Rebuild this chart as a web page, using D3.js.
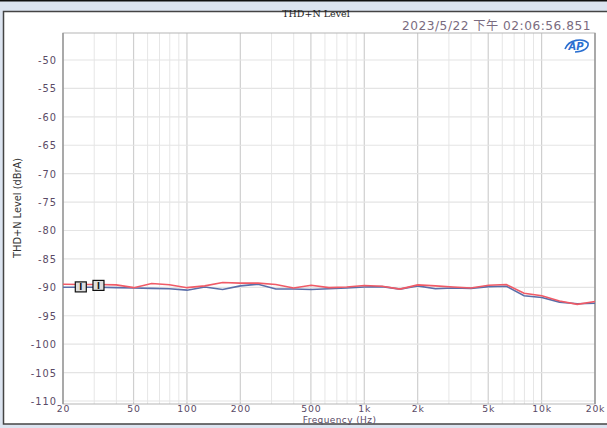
<!DOCTYPE html>
<html><head><meta charset="utf-8">
<script src="https://cdn.jsdelivr.net/npm/d3@7"></script>
<style>html,body{margin:0;padding:0;background:#dce4f0;overflow:hidden}</style>
</head><body>
<svg id="c" width="607" height="428"></svg>
<script>
const freqs = [20,25.2,31.7,39.9,50.2,63.2,79.6,100.2,126,159,200,252,317,399,502,632,796,1002,1262,1589,2000,2518,3170,3991,5024,6325,7962,10024,12619,15887,20000];
const redValues = [-89.45,-89.5,-89.5,-89.57,-90.06,-89.32,-89.55,-90.06,-89.75,-89.14,-89.26,-89.26,-89.5,-90.12,-89.63,-90.06,-89.94,-89.69,-89.81,-90.31,-89.57,-89.75,-89.94,-90.12,-89.63,-89.5,-91.05,-91.48,-92.4,-93.0,-92.5];
const blueValues = [-90,-90,-90,-90.06,-90.12,-90.19,-90.25,-90.5,-89.94,-90.37,-89.75,-89.45,-90.3,-90.3,-90.37,-90.25,-90.12,-89.94,-89.88,-90.31,-89.75,-90.25,-90.12,-90.19,-89.88,-89.81,-91.48,-91.8,-92.6,-92.9,-92.8];
const xTickValues = [20,50,100,200,500,1000,2000,5000,10000,20000];
const xTickLabels = ["20","50","100","200","500","1k","2k","5k","10k","20k"];
const yTickValues = [-50,-55,-60,-65,-70,-75,-80,-85,-90,-95,-100,-105,-110];
const markerIdx = [1,2];

const svg = d3.select("#c");
svg.append("rect").attr("x",0).attr("y",0).attr("width",607).attr("height",1.5).attr("fill","#111");
svg.append("rect").attr("x",3.5).attr("y",11.5).attr("width",610).attr("height",412.5)
  .attr("fill","#fff").attr("stroke","#444").attr("stroke-width",1.5);

const L=63, R=595, T=33, B=404;
const x = d3.scaleLog().domain([20,20000]).range([L,R]);
const y = d3.scaleLinear().domain([-110.53,-45.25]).range([B,T]);

const minor=[];
for (let d=10; d<=10000; d*=10) for (let k=2;k<=9;k++){const f=d*k; if(f>20&&f<20000&&!xTickValues.includes(f)) minor.push(f);}
svg.append("g").selectAll("line").data(minor).join("line")
  .attr("x1",d=>x(d)).attr("x2",d=>x(d)).attr("y1",T).attr("y2",B)
  .attr("stroke","#e6e6e6").attr("stroke-width",1);
svg.append("g").selectAll("line").data(xTickValues.slice(1,-1)).join("line")
  .attr("x1",d=>x(d)).attr("x2",d=>x(d)).attr("y1",T).attr("y2",B)
  .attr("stroke","#cfcfcf").attr("stroke-width",1.2);
svg.append("g").selectAll("line").data(yTickValues).join("line")
  .attr("x1",L).attr("x2",R).attr("y1",d=>y(d)).attr("y2",d=>y(d))
  .attr("stroke","#e4e4e4").attr("stroke-width",1.2);
svg.append("rect").attr("x",L).attr("y",T).attr("width",R-L).attr("height",B-T)
  .attr("fill","none").attr("stroke","#b5b5b5").attr("stroke-width",1);
svg.append("line").attr("x1",L).attr("x2",L).attr("y1",T).attr("y2",B).attr("stroke","#999").attr("stroke-width",1.5);
svg.append("line").attr("x1",R).attr("x2",R).attr("y1",T).attr("y2",B).attr("stroke","#999").attr("stroke-width",1.5);

const tc="#5a4a66";
const xa = d3.axisBottom(x).tickValues(xTickValues).tickFormat((d,i)=>xTickLabels[i]).tickSize(0).tickPadding(0);
svg.append("g").attr("transform",`translate(0,${B})`).call(xa)
  .call(g=>g.select(".domain").remove())
  .selectAll("text").attr("y",7.5).attr("dy",0).attr("fill",tc)
  .attr("font-family","DejaVu Sans").attr("font-size",9.3).attr("letter-spacing",0.8);
const ya = d3.axisLeft(y).tickValues(yTickValues).tickFormat(d=>String(d)).tickSize(0).tickPadding(6);
svg.append("g").attr("transform",`translate(${L},0)`).call(ya)
  .call(g=>g.select(".domain").remove())
  .selectAll("text").attr("fill",tc).attr("font-family","DejaVu Sans").attr("font-size",9.8)
  .attr("letter-spacing",1).attr("dy","0.35em");

svg.append("text").attr("x",(x(500)+x(1000))/2+2).attr("y",423).attr("text-anchor","middle")
  .attr("font-family","DejaVu Sans").attr("font-size",9).attr("letter-spacing",0.4).attr("fill",tc).text("Frequency (Hz)");
svg.append("text").attr("transform","translate(21,208) rotate(-90)").attr("text-anchor","middle")
  .attr("font-family","DejaVu Sans Condensed, DejaVu Sans").attr("font-stretch","condensed").attr("font-size",10).attr("fill","#333")
  .attr("textLength",100).attr("lengthAdjust","spacingAndGlyphs")
  .text("THD+N Level (dBrA)");
svg.append("text").attr("x",316).attr("y",17).attr("text-anchor","middle")
  .attr("font-family","DejaVu Serif, Liberation Serif").attr("font-size",9.5).attr("fill","#222").text("THD+N Level");
svg.append("text").attr("x",591).attr("y",30).attr("text-anchor","end")
  .attr("font-family","DejaVu Sans, Noto Sans CJK TC").attr("font-size",12.2).attr("letter-spacing",0.5).attr("fill","#7a6b80")
  .text("2023/5/22 下午 02:06:56.851");
const lg = svg.append("g").attr("transform","translate(577,46)");
lg.append("path").attr("d","M-12,3 C-8,-7 6,-8 11,-3 C12,2 6,6 -2,6").attr("fill","none").attr("stroke","#2a6fd0").attr("stroke-width",1.6);
lg.append("text").attr("x",-1).attr("y",4).attr("text-anchor","middle").attr("font-family","DejaVu Sans")
  .attr("font-style","italic").attr("font-weight","bold").attr("font-size",10).attr("fill","#2a6fd0").text("AP");

const line = v => d3.line().x((d,i)=>x(freqs[i])).y(d=>y(d))(v);
svg.append("path").attr("d",line(blueValues)).attr("fill","none").attr("stroke","#5a6ea8").attr("stroke-width",1.6);
svg.append("path").attr("d",line(redValues)).attr("fill","none").attr("stroke","#f05a66").attr("stroke-width",1.6);

const mk = svg.append("g").selectAll("g").data(markerIdx).join("g")
  .attr("transform",(d,i)=>`translate(${x(freqs[d])},${y((redValues[d]+blueValues[d])/2)+1-i*1.5})`);
mk.append("rect").attr("x",-5.5).attr("y",-5).attr("width",11).attr("height",10)
  .attr("fill","#ddd").attr("stroke","#111").attr("stroke-width",1.2);
mk.append("text").attr("y",3.5).attr("text-anchor","middle").attr("font-family","DejaVu Sans").attr("font-size",8).attr("font-weight","bold").attr("fill","#111").text("I");
</script>
</body></html>
